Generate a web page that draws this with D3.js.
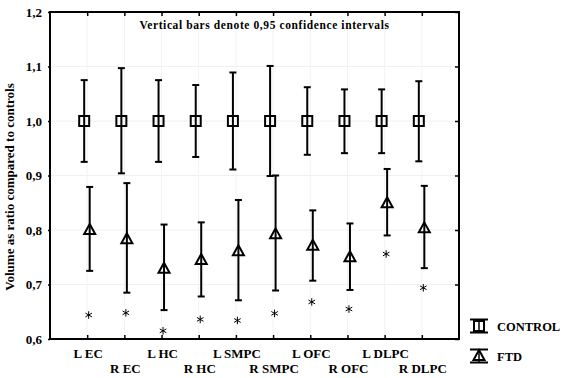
<!DOCTYPE html>
<html>
<head>
<meta charset="utf-8">
<script src="https://cdn.jsdelivr.net/npm/d3@7"></script>
<style>
  body { margin: 0; background: #fff; }
</style>
</head>
<body>
<div id="chart"></div>
<script>
// regions, in drawing order
const regions = ["L EC", "R EC", "L HC", "R HC", "L SMPC", "R SMPC", "L OFC", "R OFC", "L DLPC", "R DLPC"]

// control group: mean and 0.95 CI
const control_mean = [1.0, 1.0, 1.0, 1.0, 1.0, 1.0, 1.0, 1.0, 1.0, 1.0]
const control_low  = [0.925, 0.904, 0.925, 0.934, 0.911, 0.899, 0.938, 0.941, 0.941, 0.926]
const control_high = [1.075, 1.097, 1.075, 1.066, 1.089, 1.101, 1.062, 1.058, 1.058, 1.073]

// FTD group: mean and 0.95 CI
const ftd_mean = [0.800, 0.783, 0.729, 0.745, 0.761, 0.792, 0.771, 0.750, 0.849, 0.803]
const ftd_low  = [0.725, 0.685, 0.653, 0.678, 0.671, 0.689, 0.707, 0.690, 0.790, 0.730]
const ftd_high = [0.879, 0.886, 0.810, 0.814, 0.855, 0.900, 0.836, 0.812, 0.912, 0.881]

// significance asterisks
const star_y = [0.644, 0.648, 0.615, 0.636, 0.634, 0.647, 0.668, 0.655, 0.756, 0.694]

const y_ticks = [0.6, 0.7, 0.8, 0.9, 1.0, 1.1, 1.2]

const FONT = '"Liberation Serif", "Times New Roman", Times, serif'

const W = 567, H = 378
const margin = {top: 12, right: 108, bottom: 39, left: 50}
const width = W - margin.left - margin.right,
    height = H - margin.top - margin.bottom

let svg = d3.select("#chart").append("svg")
    .attr("width", W).attr("height", H)
let g = svg.append("g")
    .attr("transform", "translate(" + margin.left + "," + margin.top + ")")

const x = d3.scalePoint()
    .domain(regions)
    .range([0, width])
    .padding(1)

const y = d3.scaleLinear()
    .domain([0.6, 1.2])
    .range([height, 0])

const fmt = d => d3.format(".1f")(d).replace(".", ",")

// faint grid
g.append("g").selectAll("line")
    .data(y_ticks.slice(1, -1))
    .enter().append("line")
    .attr("x1", 0).attr("x2", width)
    .attr("y1", d => y(d)).attr("y2", d => y(d))
    .attr("stroke", "#f0f0f0")
g.append("g").selectAll("line")
    .data(regions)
    .enter().append("line")
    .attr("x1", d => x(d)).attr("x2", d => x(d))
    .attr("y1", 0).attr("y2", height)
    .attr("stroke", "#f3f3f3")

// axes
g.append("g")
    .call(d3.axisLeft(y).tickValues(y_ticks).tickFormat(fmt).tickSizeInner(2).tickSizeOuter(0).tickPadding(6))
    .call(a => a.selectAll("text")
        .style("font-family", FONT).style("font-weight", "bold")
        .style("font-size", "13px").attr("fill", "#000"))
g.append("g")
    .attr("transform", "translate(" + width + ",0)")
    .call(d3.axisRight(y).tickValues(y_ticks).tickFormat("").tickSizeInner(-4).tickSizeOuter(0))
g.append("g")
    .attr("transform", "translate(0," + height + ")")
    .call(d3.axisBottom(x).tickFormat("").tickSizeInner(-4).tickSizeOuter(0))
g.append("g")
    .call(d3.axisTop(x).tickFormat("").tickSizeInner(-4).tickSizeOuter(0))
g.selectAll(".domain").remove()
g.selectAll(".tick line").attr("stroke", "#000").attr("stroke-width", 1.5)

g.append("rect")
    .attr("width", width).attr("height", height)
    .attr("fill", "none").attr("stroke", "#000").attr("stroke-width", 2)

// category labels in two rows
g.append("g").selectAll("text")
    .data(regions)
    .enter().append("text")
    .attr("x", (d, i) => x(d) + 1)
    .attr("y", (d, i) => height + (i % 2 === 0 ? 19 : 34))
    .attr("text-anchor", "middle")
    .style("font-family", FONT).style("font-weight", "bold")
    .style("font-size", "13px")
    .text(d => d)

// titles
g.append("text")
    .attr("x", width / 2 + 10).attr("y", 17)
    .attr("text-anchor", "middle")
    .style("font-family", FONT).style("font-weight", "bold")
    .style("font-size", "11.5px")
    .style("letter-spacing", "0.6px")
    .text("Vertical bars denote 0,95 confidence intervals")

svg.append("text")
    .attr("transform", "translate(14,187) rotate(-90)")
    .attr("text-anchor", "middle")
    .style("font-family", FONT).style("font-weight", "bold")
    .style("font-size", "13px")
    .text("Volume as ratio compared to controls")

// error bars + markers
function draw_series(mean, low, high, dx, marker) {
    let s = g.append("g")
    regions.forEach((r, i) => {
        const cx = x(r) + dx
        s.append("line")
            .attr("x1", cx).attr("x2", cx)
            .attr("y1", y(low[i])).attr("y2", y(high[i]))
            .attr("stroke", "#000").attr("stroke-width", 2)
        ;[low[i], high[i]].forEach(v => {
            s.append("line")
                .attr("x1", cx - 3.5).attr("x2", cx + 3.5)
                .attr("y1", y(v)).attr("y2", y(v))
                .attr("stroke", "#000").attr("stroke-width", 2)
        })
        marker(s, cx, y(mean[i]))
    })
}

function square(s, cx, cy) {
    s.append("rect")
        .attr("x", cx - 5).attr("y", cy - 5)
        .attr("width", 10).attr("height", 10)
        .attr("fill", "none").attr("stroke", "#000").attr("stroke-width", 2)
}
function triangle(s, cx, cy) {
    s.append("path")
        .attr("d", "M" + cx + "," + (cy - 6) + "L" + (cx + 5.5) + "," + (cy + 4) + "L" + (cx - 5.5) + "," + (cy + 4) + "Z")
        .attr("fill", "none").attr("stroke", "#000").attr("stroke-width", 2)
}

draw_series(control_mean, control_low, control_high, -3, square)
draw_series(ftd_mean, ftd_low, ftd_high, 2.5, triangle)

// asterisks
g.append("g").selectAll("path")
    .data(regions)
    .enter().append("path")
    .attr("transform", (d, i) => "translate(" + (x(d) + 1.5) + "," + y(star_y[i]) + ")")
    .attr("d", d3.symbol(d3.symbolAsterisk, 40))
    .attr("fill", "none").attr("stroke", "#000").attr("stroke-width", 1)

// legend
const legend_items = [["CONTROL", square, 326], ["FTD", triangle, 356]]
legend_items.forEach(([label, marker, ly]) => {
    let lg = svg.append("g")
    const lx = 479
    ;[-6.5, 6.5].forEach(o => {
        lg.append("line")
            .attr("x1", lx - 9).attr("x2", lx + 9)
            .attr("y1", ly + o).attr("y2", ly + o)
            .attr("stroke", "#000").attr("stroke-width", 2)
    })
    lg.append("line")
        .attr("x1", lx).attr("x2", lx)
        .attr("y1", ly - 6.5).attr("y2", ly + 6.5)
        .attr("stroke", "#000").attr("stroke-width", 1.5)
    marker(lg, lx, ly)
    lg.append("text")
        .attr("x", 497).attr("y", ly + 4.5)
        .style("font-family", FONT).style("font-weight", "bold")
        .style("font-size", "12.5px")
        .text(label)
})
</script>
</body>
</html>
